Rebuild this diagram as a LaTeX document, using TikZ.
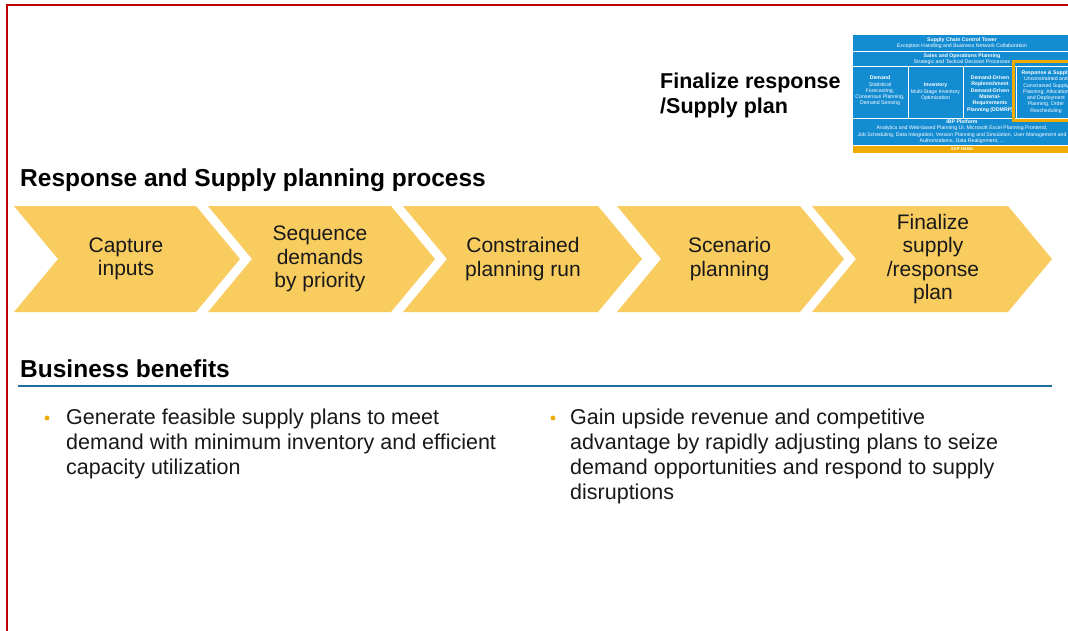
\documentclass[tikz,border=0pt]{standalone}
\usepackage{fontspec}
\setmainfont{Liberation Sans}
\definecolor{chev}{RGB}{249,204,96}
\definecolor{redline}{RGB}{192,0,0}
\definecolor{sapblue}{RGB}{20,140,210}
\definecolor{sapgold}{RGB}{240,171,0}
\definecolor{rulecol}{RGB}{31,110,160}
\definecolor{txt}{RGB}{25,25,25}
\newcommand\mychev[2]{\fill[chev] (#1,206) -- (#2,206) -- (#2+44,259) -- (#2,312) -- (#1,312) -- (#1+44,259) -- cycle;}
\begin{document}
\begin{tikzpicture}[x=1pt,y=-1pt,
  chevtext/.style={font=\fontsize{21}{23.3}\selectfont, text=txt, align=center, inner sep=0},
  head/.style={font=\fontsize{24.5}{28}\selectfont\bfseries, text=black, anchor=base west, inner sep=0},
  bullettext/.style={font=\fontsize{21.5}{25.3}\selectfont, text=txt, align=left, anchor=base west, inner sep=0},
  mini/.style={font=\fontsize{5.2}{6.3}\selectfont, text=white, align=center, inner sep=0},
  bulletdot/.style={fill=sapgold}]
\useasboundingbox (0,0) rectangle (1068,630);
\fill[white] (0,0) rectangle (1068,630);
\draw[redline, line width=2.5] (7,631) -- (7,5) -- (1069,5);

% mini IBP diagram
\fill[sapblue] (853,35) rectangle (1072,51);
\fill[sapblue] (853,52) rectangle (1072,66);
\fill[sapblue] (853,67) rectangle (907.5,118);
\fill[sapblue] (908.5,67) rectangle (962.5,118);
\fill[sapblue] (963.5,67) rectangle (1016,118);
\fill[sapblue] (1017,67) rectangle (1072,118);
\fill[sapblue] (853,119) rectangle (1072,145);
\fill[sapgold] (853,146) rectangle (1072,152.5);
\node[mini] (t1) at (962,43) {\textbf{Supply Chain Control Tower}\\Exception Handling and Business Network Collaboration};
\node[mini] (t2) at (962,59) {\textbf{Sales and Operations Planning}\\Strategic and Tactical Decision Processes};
\node[mini] (dem) at (880,91) {\textbf{Demand}\\Statistical\\Forecasting,\\Consensus Planning,\\Demand Sensing};
\node[mini] (inv) at (935.5,92) {\textbf{Inventory}\\Multi-Stage Inventory\\Optimization};
\node[mini] (ddr) at (990,94) {\textbf{Demand-Driven}\\\textbf{Replenishment}\\\textbf{Demand-Driven}\\\textbf{Material-}\\\textbf{Requirements}\\\textbf{Planning (DDMRP)}};
\node[mini] (rs) at (1046,92) {\textbf{Response \& Supply}\\Unconstrained and\\Constrained Supply\\Planning, Allocation\\and Deployment\\Planning, Order\\Rescheduling};
\node[mini] (ibp) at (962,131.5) {\textbf{IBP Platform}\\Analytics and Web-based Planning UI, Microsoft Excel Planning Frontend,\\Job Scheduling, Data Integration, Version Planning and Simulation, User Management and\\Authorizations, Data Realignment, ...};
\node[mini, font=\fontsize{4.3}{5}\selectfont\bfseries] (hana) at (962,149.3) {SAP HANA};
\draw[sapgold, line width=3] (1013.5,61.5) rectangle (1090,120.5);

\node[font=\fontsize{21.5}{25}\selectfont\bfseries, align=left, anchor=base west, inner sep=0] (fin) at (660,113) {Finalize response\\/Supply plan};

% headings
\node[head] (h1) at (20,186) {Response and Supply planning process};
\node[head] (h2) at (20,377) {Business benefits};
\draw[rulecol, line width=1.3] (18,386) -- (1052,386);

% chevrons
\mychev{14}{196}
\mychev{208}{391}
\mychev{403}{598}
\mychev{617}{800}
\mychev{812}{1008}
\node[chevtext] (c1) at (126,259) {Capture\\inputs};
\node[chevtext] (c2) at (320,259) {Sequence\\demands\\by priority};
\node[chevtext] (c3) at (523,259) {Constrained\\planning run};
\node[chevtext] (c4) at (729.5,259) {Scenario\\planning};
\node[chevtext] (c5) at (933,259) {Finalize\\supply\\/response\\plan};

% benefits
\fill[bulletdot] (47,418) circle (2.4);
\fill[bulletdot] (553,418) circle (2.4);
\node[bullettext] (b1) at (66,474.6) {Generate feasible supply plans to meet\\demand with minimum inventory and efficient\\capacity utilization};
\node[bullettext] (b2) at (570,499.9) {Gain upside revenue and competitive\\advantage by rapidly adjusting plans to seize\\demand opportunities and respond to supply\\disruptions};
\end{tikzpicture}
\end{document}
